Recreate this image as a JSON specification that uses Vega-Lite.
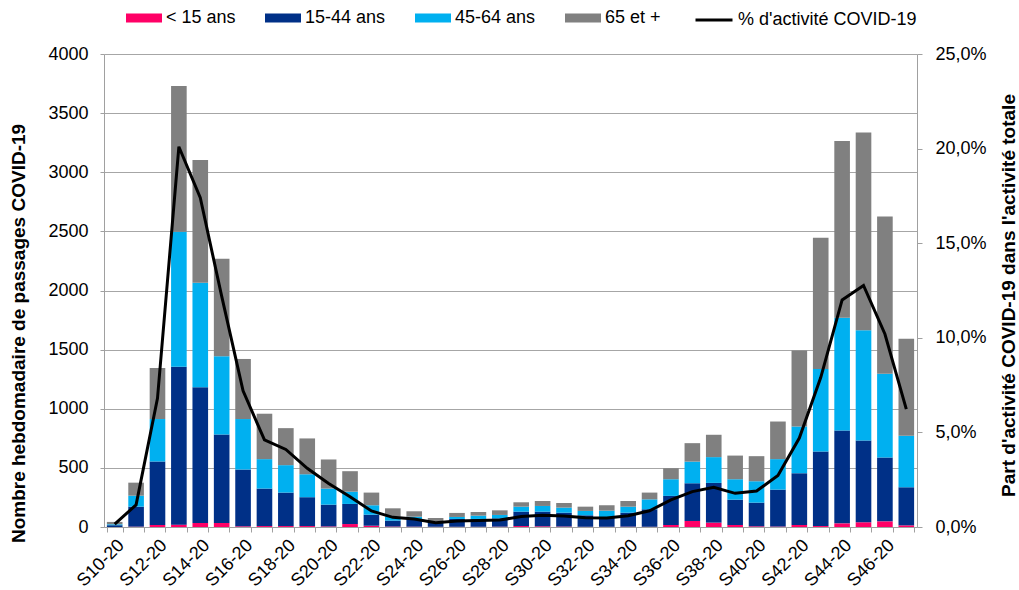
{
  "$schema": "https://vega.github.io/schema/vega-lite/v6.json",
  "width": 813,
  "height": 473,
  "autosize": {"type": "none"},
  "padding": {"left": 104, "top": 54, "right": 102, "bottom": 63},
  "background": "white",
  "config": {
    "font": "Liberation Sans",
    "view": {"stroke": null},
    "axis": {"labelFont": "Liberation Sans", "titleFont": "Liberation Sans", "labelColor": "#000000", "titleColor": "#000000"},
    "legend": {"labelFont": "Liberation Sans", "labelColor": "#000000"}
  },
  "data": {
    "values": [
      {"semaine": "S10-20", "moins15": 0, "de15a44": 15, "de45a64": 8, "plus65": 20, "pct": 0.15},
      {"semaine": "S11-20", "moins15": 3, "de15a44": 169, "de45a64": 93, "plus65": 110, "pct": 1.17},
      {"semaine": "S12-20", "moins15": 17, "de15a44": 537, "de45a64": 359, "plus65": 432, "pct": 6.8},
      {"semaine": "S13-20", "moins15": 20, "de15a44": 1336, "de45a64": 1141, "plus65": 1232, "pct": 20.1},
      {"semaine": "S14-20", "moins15": 34, "de15a44": 1147, "de45a64": 884, "plus65": 1039, "pct": 17.4},
      {"semaine": "S15-20", "moins15": 34, "de15a44": 748, "de45a64": 661, "plus65": 826, "pct": 12.2},
      {"semaine": "S16-20", "moins15": 6, "de15a44": 480, "de45a64": 427, "plus65": 508, "pct": 7.2},
      {"semaine": "S17-20", "moins15": 8, "de15a44": 317, "de45a64": 249, "plus65": 384, "pct": 4.6},
      {"semaine": "S18-20", "moins15": 8, "de15a44": 283, "de45a64": 232, "plus65": 313, "pct": 4.1},
      {"semaine": "S19-20", "moins15": 8, "de15a44": 244, "de45a64": 194, "plus65": 303, "pct": 3.1},
      {"semaine": "S20-20", "moins15": 5, "de15a44": 184, "de45a64": 136, "plus65": 246, "pct": 2.3},
      {"semaine": "S21-20", "moins15": 25, "de15a44": 170, "de45a64": 104, "plus65": 173, "pct": 1.6},
      {"semaine": "S22-20", "moins15": 11, "de15a44": 93, "de45a64": 80, "plus65": 107, "pct": 0.85},
      {"semaine": "S23-20", "moins15": 4, "de15a44": 50, "de45a64": 33, "plus65": 71, "pct": 0.51},
      {"semaine": "S24-20", "moins15": 3, "de15a44": 62, "de45a64": 22, "plus65": 46, "pct": 0.42},
      {"semaine": "S25-20", "moins15": 2, "de15a44": 32, "de45a64": 11, "plus65": 31, "pct": 0.23},
      {"semaine": "S26-20", "moins15": 2, "de15a44": 66, "de45a64": 17, "plus65": 34, "pct": 0.32},
      {"semaine": "S27-20", "moins15": 2, "de15a44": 66, "de45a64": 28, "plus65": 31, "pct": 0.35},
      {"semaine": "S28-20", "moins15": 3, "de15a44": 70, "de45a64": 29, "plus65": 39, "pct": 0.37},
      {"semaine": "S29-20", "moins15": 8, "de15a44": 122, "de45a64": 42, "plus65": 37, "pct": 0.55},
      {"semaine": "S30-20", "moins15": 6, "de15a44": 124, "de45a64": 48, "plus65": 42, "pct": 0.62},
      {"semaine": "S31-20", "moins15": 4, "de15a44": 117, "de45a64": 43, "plus65": 39, "pct": 0.58},
      {"semaine": "S32-20", "moins15": 2, "de15a44": 97, "de45a64": 37, "plus65": 36, "pct": 0.49},
      {"semaine": "S33-20", "moins15": 2, "de15a44": 80, "de45a64": 56, "plus65": 46, "pct": 0.48},
      {"semaine": "S34-20", "moins15": 3, "de15a44": 118, "de45a64": 51, "plus65": 48, "pct": 0.6},
      {"semaine": "S35-20", "moins15": 2, "de15a44": 148, "de45a64": 84, "plus65": 57, "pct": 0.86},
      {"semaine": "S36-20", "moins15": 17, "de15a44": 246, "de45a64": 141, "plus65": 93, "pct": 1.43},
      {"semaine": "S37-20", "moins15": 51, "de15a44": 319, "de45a64": 183, "plus65": 156, "pct": 1.87},
      {"semaine": "S38-20", "moins15": 37, "de15a44": 336, "de45a64": 218, "plus65": 189, "pct": 2.1},
      {"semaine": "S39-20", "moins15": 17, "de15a44": 214, "de45a64": 173, "plus65": 200, "pct": 1.78},
      {"semaine": "S40-20", "moins15": 6, "de15a44": 200, "de45a64": 181, "plus65": 212, "pct": 1.9},
      {"semaine": "S41-20", "moins15": 4, "de15a44": 312, "de45a64": 258, "plus65": 318, "pct": 2.72},
      {"semaine": "S42-20", "moins15": 17, "de15a44": 438, "de45a64": 395, "plus65": 642, "pct": 4.7},
      {"semaine": "S43-20", "moins15": 8, "de15a44": 630, "de45a64": 698, "plus65": 1111, "pct": 7.9},
      {"semaine": "S44-20", "moins15": 31, "de15a44": 785, "de45a64": 953, "plus65": 1496, "pct": 12.0},
      {"semaine": "S45-20", "moins15": 40, "de15a44": 691, "de45a64": 933, "plus65": 1672, "pct": 12.77},
      {"semaine": "S46-20", "moins15": 48, "de15a44": 539, "de45a64": 710, "plus65": 1328, "pct": 10.2},
      {"semaine": "S47-20", "moins15": 14, "de15a44": 322, "de45a64": 435, "plus65": 822, "pct": 6.23}
    ]
  },
  "layer": [
    {
      "transform": [
        {"fold": ["moins15", "de15a44", "de45a64", "plus65"], "as": ["groupe", "passages"]},
        {"calculate": "indexof(['moins15','de15a44','de45a64','plus65'], datum.groupe)", "as": "rang"}
      ],
      "mark": {"type": "bar"},
      "encoding": {
        "x": {
          "field": "semaine", "type": "ordinal", "sort": null,
          "scale": {"paddingInner": 0.27, "paddingOuter": 0.135},
          "axis": {
            "title": null,
            "labelExpr": "toNumber(substring(datum.value, 1, 3)) % 2 == 0 ? datum.value : ''",
            "labelAngle": -45, "labelAlign": "right", "labelBaseline": "top",
            "labelFontSize": 18, "labelPadding": 4,
            "tickBand": "extent", "tickSize": 5, "tickColor": "#a0a0a0",
            "domainColor": "#a0a0a0", "grid": false
          }
        },
        "y": {
          "field": "passages", "type": "quantitative", "stack": "zero",
          "scale": {"domain": [0, 4000], "nice": false},
          "axis": {
            "title": "Nombre hebdomadaire de passages COVID-19",
            "titleFontSize": 19, "titleFontWeight": "bold",
            "titleAngle": -90, "titleX": -86, "titleY": 279, "titleAlign": "center", "titleBaseline": "middle",
            "values": [0, 500, 1000, 1500, 2000, 2500, 3000, 3500, 4000],
            "format": "d", "labelFontSize": 18, "labelPadding": 12,
            "tickSize": 4, "tickColor": "#a0a0a0", "domainColor": "#a0a0a0",
            "grid": true, "gridColor": "#a6a6a6", "gridWidth": 1
          }
        },
        "color": {
          "field": "groupe", "type": "nominal",
          "scale": {"domain": ["moins15", "de15a44", "de45a64", "plus65"], "range": ["#ff0066", "#003087", "#00b0f0", "#808080"]},
          "legend": {
            "title": null, "orient": "none", "direction": "horizontal",
            "legendX": 22, "legendY": -54, "padding": 0,
            "labelExpr": "datum.value == 'moins15' ? '< 15 ans' : datum.value == 'de15a44' ? '15-44 ans' : datum.value == 'de45a64' ? '45-64 ans' : '65 et +'",
            "labelFontSize": 18, "labelOffset": 4, "columnPadding": 29, "labelLimit": 0,
            "symbolType": "M-1,-0.25H1V0.25H-1Z", "symbolSize": 1296, "symbolStrokeWidth": 0
          }
        },
        "order": {"field": "rang", "type": "quantitative", "sort": "ascending"}
      }
    },
    {
      "mark": {"type": "line", "strokeWidth": 3},
      "encoding": {
        "x": {"field": "semaine", "type": "ordinal", "sort": null},
        "y": {
          "field": "pct", "type": "quantitative",
          "scale": {"domain": [0, 25], "nice": false},
          "axis": {
            "orient": "right",
            "title": "Part d'activité COVID-19 dans l'activité totale",
            "titleFontSize": 19, "titleFontWeight": "bold",
            "titleAngle": -90, "titleX": 91, "titleY": 241, "titleAlign": "center", "titleBaseline": "middle",
            "values": [0, 5, 10, 15, 20, 25],
            "labelExpr": "replace(format(datum.value, '.1f'), '.', ',') + '%'",
            "labelFontSize": 18, "labelPadding": 13,
            "tickSize": 5, "tickColor": "#a0a0a0", "domainColor": "#a0a0a0",
            "grid": false
          }
        },
        "stroke": {
          "datum": "% d'activité COVID-19", "type": "nominal",
          "scale": {"range": ["#000000"]},
          "legend": {
            "title": null, "orient": "none", "direction": "horizontal",
            "legendX": 590, "legendY": -54, "padding": 0,
            "labelFontSize": 18, "labelOffset": 4, "labelLimit": 0,
            "symbolType": "stroke", "symbolSize": 1369, "symbolStrokeWidth": 3
          }
        }
      }
    }
  ],
  "resolve": {"scale": {"y": "independent", "color": "independent", "stroke": "independent"}}
}
